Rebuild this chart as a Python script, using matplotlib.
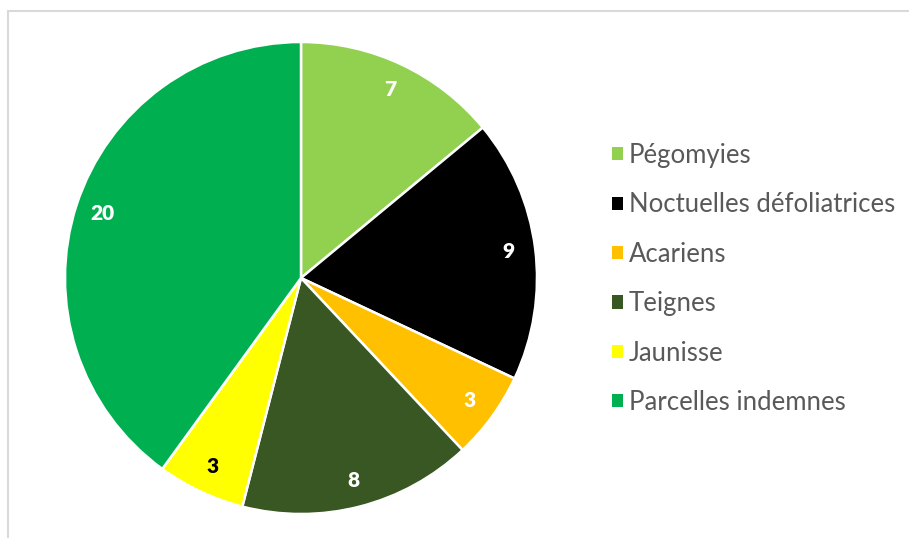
import matplotlib.pyplot as plt
from matplotlib.patches import Patch, Rectangle

# Données du graphique
categories = ['Pégomyies', 'Noctuelles défoliatrices', 'Acariens', 'Teignes',
              'Jaunisse', 'Parcelles indemnes']
valeurs = [7, 9, 3, 8, 3, 20]
couleurs = ['#92D050', '#000000', '#FFC000', '#385723', '#FFFF00', '#00B050']
couleurs_texte = ['white', 'white', 'white', 'white', 'black', 'white']

plt.rcParams['font.family'] = ['Lato', 'DejaVu Sans']

fig = plt.figure(figsize=(9.09, 5.38), dpi=100)

# Cadre gris du graphique (coupé à droite et en bas)
fig.patches.append(Rectangle((8 / 909, -0.1), 1.2, (538 - 11) / 538 + 0.1,
                             transform=fig.transFigure, fill=False,
                             edgecolor='#D9D9D9', linewidth=1.5))

ax = fig.add_axes([65 / 909, 24 / 538, 472 / 909, 472 / 538])
wedges, textes = ax.pie(valeurs, colors=couleurs, startangle=90, counterclock=False,
                        labels=[str(v) for v in valeurs], labeldistance=0.885,
                        wedgeprops=dict(edgecolor='white', linewidth=1.8),
                        textprops=dict(fontsize=15, fontweight='heavy',
                                       ha='center', va='center'))
for t, c in zip(textes, couleurs_texte):
    t.set_color(c)
ax.set_xlim(-1, 1)
ax.set_ylim(-1, 1)
ax.set_aspect('equal')

# Légende à droite
poignees = [Patch(facecolor=c, edgecolor='none') for c in couleurs]
fig.legend(poignees, categories, loc='upper left', bbox_to_anchor=(612 / 909, 1 - 143 / 538),
           frameon=False, fontsize=18.5, labelcolor='#595959',
           handlelength=0.41, handleheight=0.41, handletextpad=0.25,
           labelspacing=0.95, borderaxespad=0, borderpad=0)

fig.savefig('out.png', dpi=100)
